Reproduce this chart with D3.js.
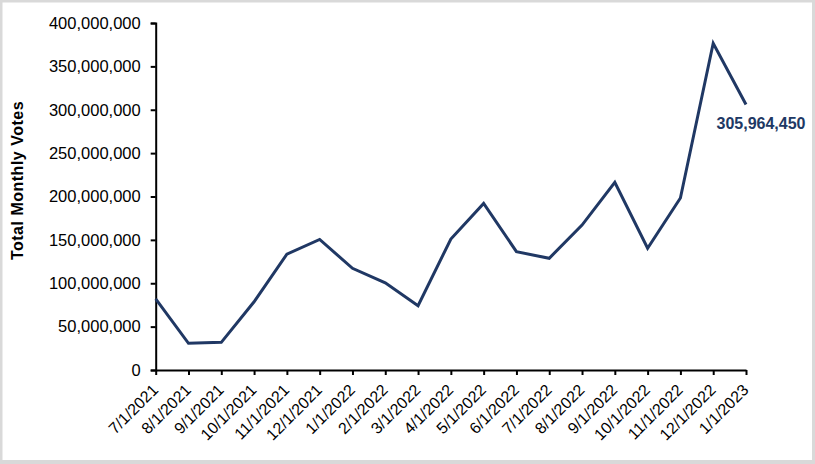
<!DOCTYPE html>
<html>
<head>
<meta charset="utf-8">
<script src="https://cdn.jsdelivr.net/npm/d3@7"></script>
<style>
  html, body { margin: 0; padding: 0; background: #d9d9d9; }
  svg { display: block; font-family: "Liberation Sans", Arial, sans-serif; }
</style>
</head>
<body>
<div id="chart"></div>
<script>
// months on the x axis
var categories = ["7/1/2021", "8/1/2021", "9/1/2021", "10/1/2021", "11/1/2021", "12/1/2021",
  "1/1/2022", "2/1/2022", "3/1/2022", "4/1/2022", "5/1/2022", "6/1/2022", "7/1/2022",
  "8/1/2022", "9/1/2022", "10/1/2022", "11/1/2022", "12/1/2022", "1/1/2023"];

// total monthly votes (last one is labelled)
var votes = [82000000, 30800000, 31900000, 78700000, 133500000, 150500000,
  117200000, 100500000, 74100000, 151000000, 192000000, 136400000, 128800000,
  167000000, 216400000, 140300000, 198300000, 376600000, 305964450];

var yTicks = [0, 50000000, 100000000, 150000000, 200000000, 250000000, 300000000, 350000000, 400000000];

var yTitle = "Total Monthly Votes";

var W = 815, H = 464;
var margin = {top: 23, right: 69, bottom: 94, left: 155.7};

var svg = d3.select("#chart").append("svg")
  .attr("width", W)
  .attr("height", H);

// white chart area inside the grey frame
svg.append("rect")
  .attr("x", 2.5).attr("y", 2.5)
  .attr("width", W - 5.5).attr("height", H - 6.5)
  .attr("fill", "#fff");

var x = d3.scalePoint()
  .domain(categories)
  .range([margin.left, W - margin.right]);

var y = d3.scaleLinear()
  .domain([0, 400000000])
  .range([H - margin.bottom, margin.top]);

var fmt = d3.format(",");

// y axis
var yAxis = svg.append("g")
  .attr("transform", "translate(" + margin.left + ",0)")
  .call(d3.axisLeft(y).tickValues(yTicks).tickFormat(fmt).tickSize(5).tickPadding(10));
yAxis.selectAll("text").attr("font-size", 16.5).attr("fill", "#000").attr("font-family", null);
yAxis.selectAll("line, path").attr("stroke", "#000").attr("stroke-width", 2);

// x axis
var xAxis = svg.append("g")
  .attr("transform", "translate(0," + y(0) + ")")
  .call(d3.axisBottom(x).tickSize(5).tickSizeOuter(0));
xAxis.select(".domain").attr("stroke", "#000").attr("stroke-width", 2);
xAxis.selectAll("line").attr("stroke", "#000").attr("stroke-width", 2);
xAxis.selectAll("text")
  .attr("font-size", 16).attr("fill", "#000").attr("font-family", null)
  .attr("text-anchor", "end")
  .attr("y", 0).attr("dy", 0)
  .attr("transform", "translate(3,21) rotate(-45)");

// y title
svg.append("text")
  .attr("transform", "translate(23," + 180.5 + ") rotate(-90)")
  .attr("text-anchor", "middle")
  .attr("font-size", 16)
  .attr("font-weight", "bold")
  .attr("letter-spacing", 0.5)
  .text(yTitle);

// the line
var line = d3.line()
  .x(function(d, i) { return x(categories[i]); })
  .y(function(d) { return y(d); });

svg.append("path")
  .datum(votes)
  .attr("fill", "none")
  .attr("stroke", "#203864")
  .attr("stroke-width", 3)
  .attr("stroke-linejoin", "miter")
  .attr("d", line);

// label on the last value
var last = votes.length - 1;
svg.append("text")
  .attr("x", x(categories[last]) - 29.5)
  .attr("y", y(votes[last]) + 24.5)
  .attr("font-size", 16)
  .attr("font-weight", "bold")
  .attr("fill", "#203864")
  .text(fmt(votes[last]));
</script>
</body>
</html>
